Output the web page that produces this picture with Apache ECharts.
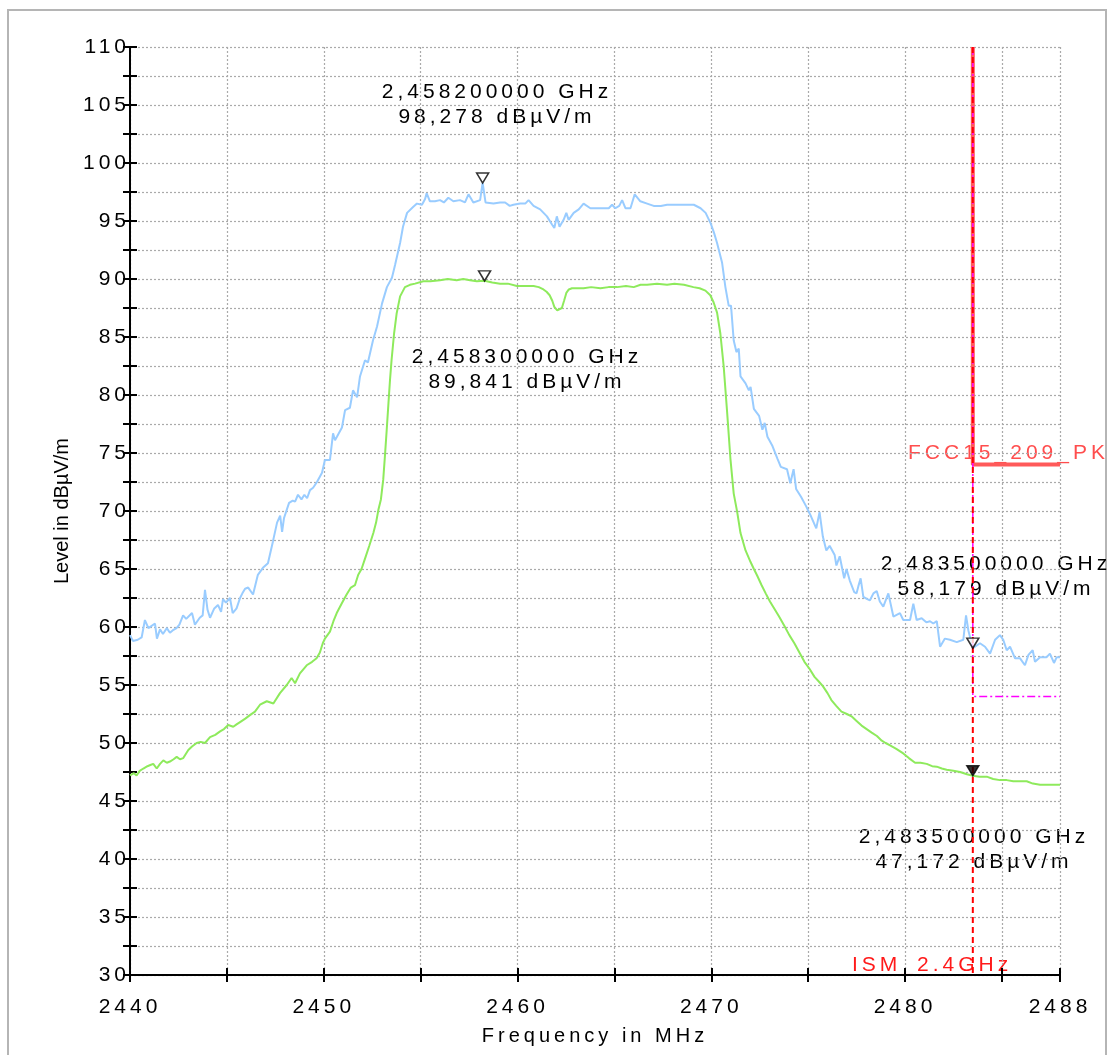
<!DOCTYPE html>
<html>
<head>
<meta charset="utf-8">
<title>Level vs frequency</title>
<script src="https://cdn.jsdelivr.net/npm/echarts@6/dist/echarts.min.js"></script>
<style>
  html, body { margin: 0; padding: 0; background: #fff; overflow: hidden; }
  #chart { width: 1113px; height: 1055px; }
</style>
</head>
<body>
<div id="chart"></div>
<script>
// frequency in MHz, level in dBµV/m
const peakTrace = [
  [2440.0, 59.3], [2440.15, 58.8], [2440.4, 58.9], [2440.6, 59.1], [2440.77, 60.6], [2440.95, 59.9],
  [2441.29, 60.3], [2441.39, 59.0], [2441.55, 59.8], [2441.7, 59.4], [2441.9, 59.9], [2442.06, 59.5],
  [2442.2, 59.7], [2442.4, 59.9], [2442.55, 60.2], [2442.74, 61.0], [2442.9, 60.7], [2443.2, 61.2],
  [2443.35, 60.2], [2443.6, 60.8], [2443.75, 61.0], [2443.87, 63.2], [2444.0, 61.5], [2444.13, 60.8],
  [2444.35, 61.6], [2444.54, 61.9], [2444.7, 61.3], [2444.8, 62.4], [2444.95, 62.1], [2445.16, 62.5],
  [2445.3, 61.2], [2445.5, 61.6], [2445.68, 62.5], [2445.8, 62.9], [2445.94, 63.3], [2446.1, 63.4],
  [2446.2, 63.5], [2446.35, 62.8], [2446.6, 64.5], [2446.86, 65.1], [2447.12, 65.5], [2447.38, 67.4],
  [2447.59, 69.0], [2447.75, 69.6], [2447.85, 68.2], [2447.95, 69.4], [2448.21, 70.7], [2448.4, 70.9],
  [2448.52, 70.8], [2448.67, 71.4], [2448.85, 71.0], [2449.0, 71.4], [2449.14, 71.1], [2449.29, 71.8],
  [2449.45, 72.0], [2449.65, 72.5], [2449.91, 73.3], [2450.06, 74.4], [2450.32, 74.4], [2450.48, 76.7],
  [2450.58, 76.1], [2450.68, 76.4], [2450.94, 77.2], [2451.1, 78.7], [2451.35, 78.9], [2451.51, 80.4],
  [2451.72, 79.8], [2451.87, 81.6], [2452.13, 83.0], [2452.28, 82.8], [2452.54, 84.7], [2452.75, 85.9],
  [2453.01, 87.9], [2453.26, 89.3], [2453.52, 90.1], [2453.68, 91.2], [2453.94, 93.1], [2454.09, 94.5],
  [2454.3, 95.7], [2454.61, 96.2], [2454.81, 96.5], [2455.07, 96.4], [2455.23, 96.9], [2455.31, 97.4],
  [2455.48, 96.7], [2455.74, 96.7], [2456.0, 96.8], [2456.2, 96.6], [2456.43, 97.0], [2456.69, 96.7],
  [2457.03, 96.8], [2457.29, 96.6], [2457.47, 97.3], [2457.72, 96.6], [2458.07, 96.8], [2458.2, 98.278],
  [2458.35, 96.6], [2458.76, 96.5], [2459.1, 96.6], [2459.36, 96.6], [2459.6, 96.3], [2459.79, 96.4],
  [2460.14, 96.5], [2460.4, 96.5], [2460.57, 96.8], [2460.83, 96.3], [2461.17, 96.0], [2461.52, 95.4],
  [2461.78, 94.7], [2461.9, 94.4], [2462.03, 95.4], [2462.17, 94.5], [2462.38, 95.1], [2462.52, 95.7],
  [2462.64, 95.1], [2462.9, 95.7], [2463.16, 96.0], [2463.41, 96.5], [2463.76, 96.1], [2464.1, 96.1],
  [2464.4, 96.1], [2464.71, 96.1], [2464.88, 96.4], [2465.05, 96.1], [2465.25, 96.3], [2465.4, 96.8],
  [2465.57, 96.1], [2465.83, 96.1], [2466.05, 97.3], [2466.34, 96.7], [2466.69, 96.5], [2467.03, 96.3],
  [2467.4, 96.3], [2467.72, 96.4], [2468.0, 96.4], [2468.24, 96.4], [2468.59, 96.4], [2468.9, 96.4],
  [2469.1, 96.4], [2469.45, 96.1], [2469.71, 95.7], [2469.97, 94.8], [2470.14, 94.0], [2470.3, 93.1],
  [2470.56, 91.4], [2470.73, 89.3], [2470.9, 87.7], [2471.02, 87.7], [2471.16, 84.7], [2471.3, 83.7],
  [2471.42, 84.0], [2471.51, 81.6], [2471.77, 81.0], [2471.94, 80.4], [2472.03, 80.7], [2472.2, 78.8],
  [2472.47, 78.2], [2472.64, 77.0], [2472.76, 77.6], [2472.9, 76.4], [2473.16, 75.6], [2473.42, 74.5],
  [2473.59, 73.8], [2473.91, 73.6], [2474.08, 72.4], [2474.25, 73.6], [2474.38, 71.9], [2474.64, 71.2],
  [2474.9, 70.4], [2475.16, 69.5], [2475.42, 68.5], [2475.59, 69.9], [2475.76, 67.8], [2475.94, 66.6],
  [2476.11, 67.0], [2476.37, 66.2], [2476.46, 65.3], [2476.63, 66.1], [2476.86, 64.2], [2476.98, 65.0],
  [2477.15, 64.0], [2477.38, 63.0], [2477.5, 62.9], [2477.59, 63.5], [2477.71, 64.2], [2477.85, 62.6],
  [2478.05, 62.4], [2478.19, 62.3], [2478.37, 62.9], [2478.54, 63.1], [2478.7, 62.2], [2478.88, 61.75],
  [2479.14, 62.9], [2479.4, 60.9], [2479.74, 61.2], [2479.91, 60.6], [2480.26, 60.6], [2480.43, 62.0],
  [2480.6, 60.6], [2480.86, 60.75], [2481.1, 60.4], [2481.29, 60.5], [2481.46, 60.3], [2481.64, 60.5],
  [2481.81, 58.3], [2482.06, 59.0], [2482.32, 58.9], [2482.67, 58.7], [2483.01, 58.9], [2483.15, 61.0],
  [2483.27, 59.7], [2483.5, 58.179], [2483.87, 58.6], [2484.13, 58.3], [2484.39, 57.7], [2484.65, 58.9],
  [2484.9, 59.3], [2485.07, 58.9], [2485.25, 58.0], [2485.42, 58.3], [2485.68, 57.3], [2485.94, 57.3],
  [2486.19, 56.7], [2486.37, 57.6], [2486.59, 58.0], [2486.71, 57.0], [2486.97, 57.4], [2487.31, 57.4],
  [2487.48, 57.7], [2487.69, 56.9], [2487.83, 57.4], [2488.0, 57.4]
];

const avgTrace = [
  [2440.0, 47.2], [2440.2, 47.4], [2440.34, 47.2], [2440.5, 47.6], [2440.69, 47.8], [2440.9, 48.0],
  [2441.05, 48.1], [2441.2, 48.2], [2441.38, 47.8], [2441.55, 48.2], [2441.72, 48.5], [2441.9, 48.3],
  [2442.06, 48.4], [2442.25, 48.6], [2442.41, 48.8], [2442.58, 48.6], [2442.75, 48.7], [2443.01, 49.4],
  [2443.2, 49.7], [2443.44, 50.0], [2443.65, 50.1], [2443.87, 50.0], [2444.13, 50.5], [2444.4, 50.7],
  [2444.65, 51.0], [2444.85, 51.2], [2445.07, 51.55], [2445.33, 51.4], [2445.5, 51.6], [2445.68, 51.8],
  [2445.95, 52.1], [2446.19, 52.4], [2446.45, 52.7], [2446.71, 53.3], [2447.06, 53.6], [2447.4, 53.4],
  [2447.74, 54.3], [2448.09, 55.0], [2448.34, 55.6], [2448.52, 55.15], [2448.77, 56.0], [2449.12, 56.7],
  [2449.4, 57.0], [2449.63, 57.3], [2449.8, 57.8], [2449.95, 58.6], [2450.06, 59.0], [2450.32, 59.6],
  [2450.5, 60.5], [2450.67, 61.2], [2450.92, 62.0], [2451.18, 62.8], [2451.4, 63.4], [2451.61, 63.6],
  [2451.78, 64.5], [2451.95, 65.0], [2452.13, 65.9], [2452.35, 67.0], [2452.56, 68.1], [2452.7, 69.0],
  [2452.82, 70.1], [2452.95, 71.0], [2453.07, 72.7], [2453.16, 74.8], [2453.25, 77.0], [2453.34, 79.3],
  [2453.42, 81.3], [2453.5, 83.0], [2453.63, 85.3], [2453.76, 87.0], [2453.94, 88.5], [2454.19, 89.3],
  [2454.45, 89.5], [2454.71, 89.6], [2455.14, 89.8], [2455.5, 89.8], [2456.0, 89.9], [2456.4, 90.0],
  [2456.86, 89.9], [2457.2, 90.0], [2457.55, 89.9], [2457.9, 89.8], [2458.3, 89.841], [2458.7, 89.7],
  [2459.1, 89.6], [2459.5, 89.6], [2459.97, 89.4], [2460.4, 89.4], [2460.83, 89.4], [2461.1, 89.3],
  [2461.34, 89.1], [2461.5, 88.9], [2461.66, 88.6], [2461.8, 88.1], [2461.9, 87.6], [2462.05, 87.3],
  [2462.12, 87.2], [2462.29, 87.5], [2462.4, 88.1], [2462.52, 88.8], [2462.65, 89.1], [2462.81, 89.2],
  [2463.1, 89.2], [2463.41, 89.2], [2463.8, 89.3], [2464.28, 89.2], [2464.7, 89.3], [2465.14, 89.3],
  [2465.6, 89.4], [2466.0, 89.3], [2466.35, 89.5], [2466.69, 89.5], [2467.2, 89.6], [2467.72, 89.5],
  [2468.1, 89.6], [2468.59, 89.5], [2469.08, 89.3], [2469.4, 89.2], [2469.7, 89.0], [2469.95, 88.6],
  [2470.12, 88.0], [2470.3, 87.1], [2470.47, 85.3], [2470.64, 82.5], [2470.82, 78.5], [2470.99, 74.5],
  [2471.16, 71.5], [2471.34, 69.9], [2471.51, 68.1], [2471.77, 66.6], [2472.03, 65.6], [2472.2, 65.0],
  [2472.38, 64.4], [2472.6, 63.6], [2472.81, 62.9], [2473.03, 62.2], [2473.25, 61.6], [2473.5, 60.9],
  [2473.77, 60.1], [2474.03, 59.3], [2474.29, 58.6], [2474.55, 57.8], [2474.81, 57.0], [2475.07, 56.4],
  [2475.33, 55.7], [2475.55, 55.3], [2475.76, 54.9], [2476.0, 54.3], [2476.2, 53.7], [2476.45, 53.2],
  [2476.72, 52.7], [2477.0, 52.5], [2477.24, 52.3], [2477.5, 51.9], [2477.76, 51.5], [2478.02, 51.2],
  [2478.28, 50.9], [2478.55, 50.6], [2478.8, 50.2], [2479.0, 50.0], [2479.23, 49.8], [2479.55, 49.5],
  [2479.91, 49.1], [2480.2, 48.7], [2480.52, 48.3], [2480.8, 48.3], [2481.12, 48.2], [2481.4, 48.0],
  [2481.64, 47.96], [2481.9, 47.8], [2482.15, 47.7], [2482.5, 47.6], [2482.84, 47.5], [2483.2, 47.3],
  [2483.5, 47.172], [2483.85, 47.1], [2484.22, 47.1], [2484.55, 46.9], [2484.9, 46.8], [2485.25, 46.8],
  [2485.59, 46.7], [2485.95, 46.7], [2486.28, 46.7], [2486.6, 46.5], [2486.97, 46.4], [2487.3, 46.4],
  [2487.65, 46.4], [2488.0, 46.4]
];

// limit lines
const fccPkLimit = [[2483.5, 110], [2483.5, 74], [2488, 74]];
const fccAvLimit = [[2483.5, 110], [2483.5, 54], [2488, 54]];
const ismEdge = [[2483.5, 110], [2483.5, 30]];

// markers
const markFreq = [2458.2, 2458.3, 2483.5, 2483.5];
const markLevel = [98.278, 89.841, 58.179, 47.172];
const markFilled = [false, false, false, true];

const xTickLabels = [2440, 2450, 2460, 2470, 2480, 2488];

// the analyser software draws its texts with wide tracking
const SPACED = "Liberation Sans, Arial, sans-serif";
const PLAIN = "Liberation Sans";
["fillText", "measureText"].forEach((name) => {
  const orig = CanvasRenderingContext2D.prototype[name];
  CanvasRenderingContext2D.prototype[name] = function (...args) {
    this.letterSpacing = this.font.includes("Arial") ? "4px" : "0px";
    return orig.apply(this, args);
  };
});

const markText = (i) =>
  (markFreq[i] / 1000).toFixed(9).replace(".", ",") + " GHz\n" +
  markLevel[i].toFixed(3).replace(".", ",") + " dBµV/m";

const chart = echarts.init(document.getElementById("chart"));

const tickStyle = { show: true, length: 7, lineStyle: { color: "#000", width: 2 } };
const gridLine = { show: true, lineStyle: { color: "#aaa", width: 1.2, type: [2, 2] } };
const labelFont = { fontFamily: SPACED, fontSize: 21, color: "#000" };

const option = {
  animation: false,
  grid: { left: 130, right: 53, top: 47, bottom: 80, outerBoundsMode: "none", containLabel: false },
  xAxis: [
    {
      type: "value",
      min: 2440,
      max: 2488,
      interval: 5,
      name: "Frequency in MHz",
      nameLocation: "middle",
      nameGap: 48,
      nameTextStyle: { fontFamily: SPACED, fontSize: 20, color: "#000" },
      axisLine: { lineStyle: { color: "#000", width: 2 } },
      axisTick: tickStyle,
      axisLabel: Object.assign({
        margin: 20,
        formatter: (v) => (xTickLabels.includes(v) ? String(v) : ""),
      }, labelFont),
      splitLine: gridLine,
    },
    {
      type: "value",
      min: 2440,
      max: 2488,
      interval: 5,
      position: "bottom",
      axisLine: { show: false },
      axisTick: Object.assign({ inside: true }, tickStyle),
      axisLabel: { show: false },
      splitLine: { show: false },
    },
  ],
  yAxis: [
    {
      type: "value",
      min: 30,
      max: 110,
      interval: 2.5,
      name: "Level in dBµV/m",
      nameLocation: "middle",
      nameGap: 58,
      nameTextStyle: { fontFamily: PLAIN, fontSize: 20, color: "#000" },
      axisLine: { show: true, lineStyle: { color: "#000", width: 2 } },
      axisTick: tickStyle,
      axisLabel: Object.assign({
        margin: 0,
        formatter: (v) => (v % 5 === 0 ? String(v) : ""),
      }, labelFont),
      splitLine: gridLine,
    },
    {
      type: "value",
      min: 30,
      max: 110,
      interval: 2.5,
      position: "left",
      axisLine: { show: false },
      axisTick: Object.assign({ inside: true }, tickStyle),
      axisLabel: { show: false },
      splitLine: { show: false },
    },
  ],
  series: [
    {
      name: "Peak",
      type: "line",
      data: peakTrace,
      showSymbol: false,
      lineStyle: { color: "#99ccff", width: 2 },
      z: 3,
    },
    {
      name: "Average",
      type: "line",
      data: avgTrace,
      showSymbol: false,
      lineStyle: { color: "#8eea5c", width: 2 },
      z: 3,
    },
    {
      name: "FCC15_209_PK",
      type: "line",
      data: fccPkLimit,
      showSymbol: false,
      lineStyle: { color: "#ff5a5a", width: 4 },
      z: 4,
    },
    {
      name: "FCC15_209_AV",
      type: "line",
      data: fccAvLimit,
      showSymbol: false,
      lineStyle: { color: "#ff00ff", width: 1.5, type: [8, 3, 2, 3] },
      z: 5,
    },
    {
      name: "ISM_2.4GHz",
      type: "line",
      data: ismEdge,
      showSymbol: false,
      lineStyle: { color: "#ff0000", width: 2, type: [6, 4] },
      z: 6,
    },
    {
      name: "Markers",
      type: "scatter",
      symbol: "path://M0,0 L12,0 L6,10 Z",
      symbolSize: [12, 10],
      symbolOffset: [0, "-50%"],
      data: markFreq.map((f, i) => ({
        value: [f, markLevel[i]],
        itemStyle: { color: markFilled[i] ? "#000" : "#fff", borderColor: "#000", borderWidth: 1.5 },
      })),
      z: 7,
    },
  ],
  graphic: [
    {
      type: "rect",
      shape: { x: 8, y: 10, width: 1098, height: 1100 },
      style: { fill: "none", stroke: "#b5b5b5", lineWidth: 2 },
      silent: true,
    },
    { type: "text", x: 497, y: 105, style: { text: markText(0), font: "21px " + SPACED, fill: "#000", align: "center", verticalAlign: "middle", lineHeight: 25 } },
    { type: "text", x: 527, y: 370, style: { text: markText(1), font: "21px " + SPACED, fill: "#000", align: "center", verticalAlign: "middle", lineHeight: 25 } },
    { type: "text", x: 996, y: 577, style: { text: markText(2), font: "21px " + SPACED, fill: "#000", align: "center", verticalAlign: "middle", lineHeight: 25 } },
    { type: "text", x: 974, y: 850, style: { text: markText(3), font: "21px " + SPACED, fill: "#000", align: "center", verticalAlign: "middle", lineHeight: 25 } },
    { type: "text", x: 908, y: 453, style: { text: "FCC15_209_PK", font: "21px " + SPACED, fill: "#ff4d4d", align: "left", verticalAlign: "middle" } },
    { type: "text", x: 852, y: 965, style: { text: "ISM_2.4GHz", font: "21px " + SPACED, fill: "#ff1a1a", align: "left", verticalAlign: "middle" } },
  ],
};

chart.setOption(option);
</script>
</body>
</html>
